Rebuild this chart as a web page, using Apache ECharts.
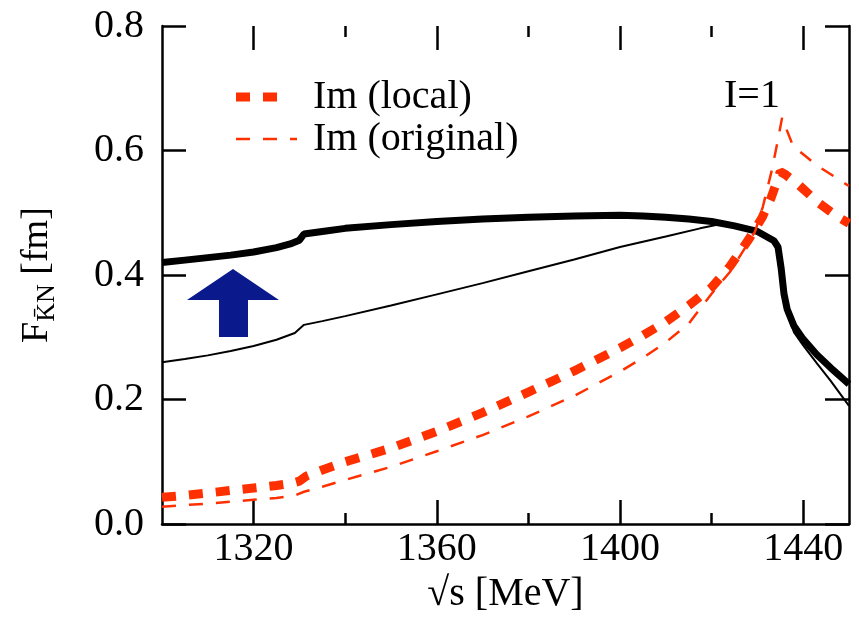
<!DOCTYPE html>
<html>
<head>
<meta charset="utf-8">
<script src="https://cdn.jsdelivr.net/npm/echarts@6/dist/echarts.min.js"></script>
<style>
  html, body { margin: 0; padding: 0; background: #fff; }
  #chart { width: 859px; height: 619px; }
</style>
</head>
<body>
<div id="chart"></div>
<script>
// sqrt(s) in MeV, F in fm
var reLocalS = [1300, 1305, 1310, 1315, 1320, 1325, 1328, 1330, 1331, 1335, 1340, 1350, 1360, 1370, 1380, 1390, 1400, 1405, 1410, 1415, 1420, 1425, 1430, 1433.6, 1434.5, 1435.2, 1435.8, 1436.5, 1438, 1440, 1443, 1446, 1450];
var reLocal  = [0.420, 0.424, 0.428, 0.432, 0.437, 0.444, 0.450, 0.456, 0.466, 0.470, 0.475, 0.481, 0.486, 0.490, 0.493, 0.495, 0.496, 0.495, 0.493, 0.490, 0.486, 0.479, 0.470, 0.455, 0.445, 0.410, 0.370, 0.345, 0.318, 0.297, 0.272, 0.251, 0.225];

var reOrigS = [1300, 1305, 1310, 1315, 1320, 1325, 1329, 1331, 1335, 1340, 1350, 1360, 1370, 1380, 1390, 1400, 1410, 1417.5, 1422, 1426, 1430, 1433.6, 1434.5, 1435.2, 1435.8, 1436.5, 1438, 1440, 1443, 1446, 1450];
var reOrig  = [0.260, 0.265, 0.271, 0.278, 0.286, 0.296, 0.307, 0.320, 0.326, 0.334, 0.351, 0.369, 0.387, 0.406, 0.425, 0.445, 0.462, 0.475, 0.482, 0.477, 0.468, 0.452, 0.440, 0.405, 0.365, 0.338, 0.308, 0.287, 0.258, 0.230, 0.190];

var imLocalS = [1300, 1305, 1310, 1315, 1320, 1325, 1328, 1330, 1331.5, 1335, 1340, 1350, 1360, 1370, 1380, 1390, 1400, 1405, 1410, 1415, 1420, 1424, 1428, 1431, 1433, 1435, 1436, 1439, 1443, 1447, 1450];
var imLocal  = [0.043, 0.046, 0.050, 0.054, 0.058, 0.062, 0.065, 0.069, 0.077, 0.087, 0.100, 0.122, 0.149, 0.179, 0.212, 0.246, 0.283, 0.303, 0.325, 0.351, 0.380, 0.414, 0.456, 0.492, 0.524, 0.566, 0.562, 0.545, 0.518, 0.496, 0.483];

var imOrigS = [1300, 1310, 1320, 1325, 1329, 1331, 1335, 1340, 1350, 1360, 1370, 1380, 1390, 1400, 1405, 1410, 1415, 1420, 1424, 1427, 1429.5, 1431.2, 1433.2, 1434.5, 1435.4, 1436.3, 1437.8, 1440, 1443, 1446, 1448, 1450];
var imOrig  = [0.028, 0.033, 0.039, 0.042, 0.046, 0.052, 0.060, 0.071, 0.092, 0.117, 0.143, 0.173, 0.206, 0.245, 0.267, 0.292, 0.322, 0.370, 0.405, 0.440, 0.470, 0.510, 0.570, 0.618, 0.653, 0.635, 0.607, 0.594, 0.576, 0.562, 0.552, 0.543];

var majorX = [1320, 1360, 1400, 1440];
var minorX = [1340, 1380, 1420];

function pairs(xs, ys) {
    var out = [];
    for (var i = 0; i < xs.length; i++) out.push([xs[i], ys[i]]);
    return out;
}

var FONT = 'Liberation Serif';
var FS = 40;
var RED = '#ff3000';

function edgeX(pos, ticks, len, withLabels) {
    return {
        type: 'value', position: pos, min: 1300, max: 1450,
        axisLine: { show: withLabels, lineStyle: { color: '#000', width: 2.5 } },
        axisTick: { show: true, inside: true, length: len, customValues: ticks, lineStyle: { color: '#000', width: 2.5 } },
        axisLabel: withLabels ? { show: true, customValues: ticks, color: '#000', fontFamily: FONT, fontSize: FS, margin: 5,
            formatter: function (v) { return String(v); } } : { show: false },
        splitLine: { show: false }
    };
}

function edgeY(pos, withLabels) {
    return {
        type: 'value', position: pos, min: 0, max: 0.8, interval: 0.2,
        axisLine: { show: true, lineStyle: { color: '#000', width: 2.5 } },
        axisTick: { show: true, inside: true, length: 24, lineStyle: { color: '#000', width: 2.5 } },
        axisLabel: withLabels ? { show: true, color: '#000', fontFamily: FONT, fontSize: FS, margin: 18,
            formatter: function (v) { return v.toFixed(1); } } : { show: false },
        splitLine: { show: false }
    };
}

var xBottom = edgeX('bottom', majorX, 24, true);
xBottom.name = '\u221As [MeV]';
xBottom.nameLocation = 'middle';
xBottom.nameGap = 30;
xBottom.nameTextStyle = { color: '#000', fontFamily: FONT, fontSize: FS };

var yLeft = edgeY('left', true);
yLeft.name = '{f|F}{s|K\u0304N}{f| [fm]}';
yLeft.nameLocation = 'middle';
yLeft.nameRotate = 90;
yLeft.nameGap = 102;
yLeft.nameTextStyle = {
    color: '#000', fontFamily: FONT, fontSize: 38,
    rich: {
        f: { color: '#000', fontFamily: FONT, fontSize: 38, lineHeight: 46 },
        s: { color: '#000', fontFamily: FONT, fontSize: 26, lineHeight: 26, verticalAlign: 'bottom' }
    }
};

function legendFor(name, top, w, h, icon, gapAfterIcon) {
    return {
        data: [{ name: name, icon: icon }],
        left: 231, top: top,
        itemWidth: w, itemHeight: h,
        textStyle: { color: '#000', fontFamily: FONT, fontSize: FS, padding: [0, 0, 0, gapAfterIcon] }
    };
}

var chart = echarts.init(document.getElementById('chart'));
chart.setOption({
    animation: false,
    backgroundColor: '#fff',
    grid: { left: 162, right: 10, top: 26, bottom: 91, containLabel: false },
    xAxis: [
        xBottom,
        edgeX('bottom', minorX, 11, false),
        edgeX('top', majorX, 24, false),
        edgeX('top', minorX, 11, false)
    ],
    yAxis: [yLeft, edgeY('right', false)],
    legend: [
        legendFor('Im (local)', 72, 41, 9, 'path://M0,0h14v9h-14z M27,0h14v9h-14z', 31),
        legendFor('Im (original)', 114, 61, 2.5, 'path://M0,0h14v2.5h-14z M27,0h14v2.5h-14z M54,0h7v2.5h-7z', 11)
    ],
    graphic: [{
        type: 'text', left: 724, top: 76,
        style: { text: 'I=1', fill: '#000', font: FS + 'px "Liberation Serif"' }
    }],
    series: [
        {
            name: 'Re (local)', type: 'line', xAxisIndex: 0, yAxisIndex: 0,
            data: pairs(reLocalS, reLocal), showSymbol: false, symbol: 'none',
            lineStyle: { color: '#000', width: 7 }, z: 3
        },
        {
            name: 'Re (original)', type: 'line', xAxisIndex: 0, yAxisIndex: 0,
            data: pairs(reOrigS, reOrig), showSymbol: false, symbol: 'none',
            lineStyle: { color: '#000', width: 2 }, z: 3
        },
        {
            name: 'Im (local)', type: 'line', xAxisIndex: 0, yAxisIndex: 0,
            data: pairs(imLocalS, imLocal), showSymbol: false, symbol: 'none',
            itemStyle: { color: RED },
            lineStyle: { color: RED, width: 9, type: [14, 13] }, z: 4
        },
        {
            name: 'Im (original)', type: 'line', xAxisIndex: 0, yAxisIndex: 0,
            data: pairs(imOrigS, imOrig), showSymbol: false, symbol: 'none',
            itemStyle: { color: RED },
            lineStyle: { color: RED, width: 2.5, type: [14, 13] }, z: 4
        },
        {
            name: 'arrow', type: 'scatter', xAxisIndex: 0, yAxisIndex: 0,
            data: [[1315.5, 0.355]], silent: true,
            symbol: 'path://M46,0L92,31L61,31L61,68L32,68L32,31L0,31Z',
            symbolSize: [92, 68],
            itemStyle: { color: '#0a1a8c', opacity: 1 }, z: 5
        }
    ]
});
</script>
</body>
</html>
